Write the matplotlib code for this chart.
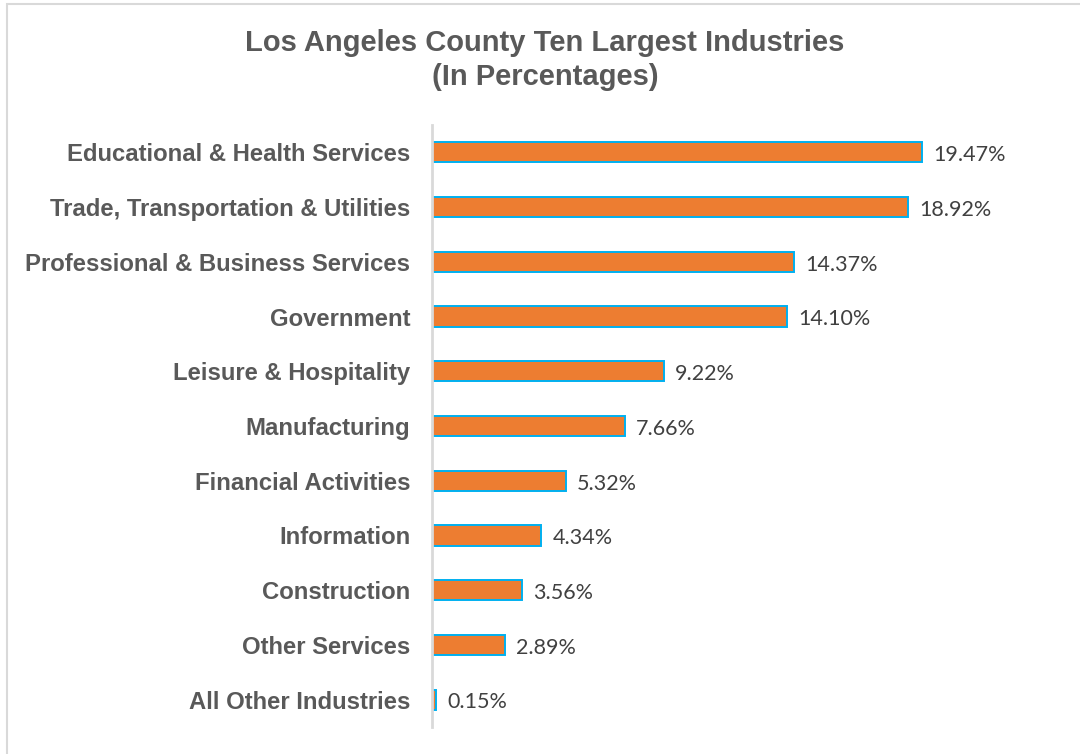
import matplotlib.pyplot as plt
from matplotlib.patches import Rectangle

categories = ["Educational & Health Services", "Trade, Transportation & Utilities",
              "Professional & Business Services", "Government", "Leisure & Hospitality",
              "Manufacturing", "Financial Activities", "Information", "Construction",
              "Other Services", "All Other Industries"]
values = [19.47, 18.92, 14.37, 14.10, 9.22, 7.66, 5.32, 4.34, 3.56, 2.89, 0.15]
value_labels = ["19.47%", "18.92%", "14.37%", "14.10%", "9.22%", "7.66%", "5.32%",
                "4.34%", "3.56%", "2.89%", "0.15%"]

fig = plt.figure(figsize=(10.8, 7.54), dpi=100)
fig.patches.append(Rectangle((7/1080, -0.05), 1.1, 1 - 4/754 + 0.05, transform=fig.transFigure,
                             fill=False, edgecolor="#D9D9D9", linewidth=1.5))

ax = fig.add_axes([432/1080, 1 - 727/754, 25.17 * 25 / 1080, (727 - 125) / 754])
y = list(range(len(categories)))
ax.barh(y, values, height=0.37, color="#ED7D31", edgecolor="#00B0F0", linewidth=1.4)
ax.set_xlim(0, 25)
ax.set_ylim(len(categories) - 0.5, -0.5)
ax.set_yticks(y)
ax.set_yticklabels(categories, fontfamily="Liberation Sans", fontweight="bold",
                   fontsize=17.2, color="#595959")
ax.tick_params(axis="y", length=0, pad=15.5)
ax.set_xticks([])
for s in ["top", "right", "bottom"]:
    ax.spines[s].set_visible(False)
ax.spines["left"].set_color("#D9D9D9")
ax.spines["left"].set_linewidth(2)

for yi, v, lab in zip(y, values, value_labels):
    ax.annotate(lab, (v, yi), xytext=(8, -2), textcoords="offset points",
                va="center", ha="left", fontsize=15.5, fontfamily="Lato", color="#404040")

fig.text(545 / 1080, 1 - 60 / 754, "Los Angeles County Ten Largest Industries\n(In Percentages)",
         ha="center", va="center", fontsize=21, fontweight="bold",
         fontfamily="Liberation Sans", color="#595959", linespacing=1.3)

fig.savefig("out.png", dpi=100)
